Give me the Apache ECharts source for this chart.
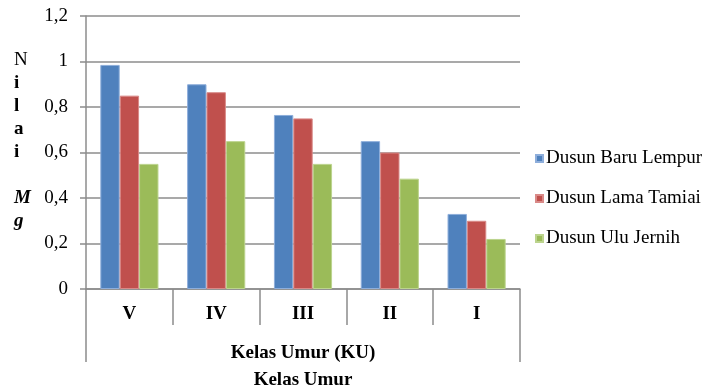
<!DOCTYPE html>
<html>
<head>
<meta charset="utf-8">
<script src="https://cdn.jsdelivr.net/npm/echarts@6/dist/echarts.min.js"></script>
<style>
  html, body { margin: 0; padding: 0; background: #fff; }
  #chart { width: 720px; height: 389px; }
</style>
</head>
<body>
<div id="chart"></div>
<script>
// Age classes (Kelas Umur) and Mg values per hamlet
const categories = ['V', 'IV', 'III', 'II', 'I'];
const baruLempur = [0.985, 0.90, 0.765, 0.65, 0.33];
const lamaTamiai = [0.85, 0.865, 0.75, 0.60, 0.30];
const uluJernih = [0.55, 0.65, 0.55, 0.485, 0.22];
const seriesNames = ['Dusun Baru Lempur', 'Dusun Lama Tamiai', 'Dusun Ulu Jernih'];
const yTicks = [0, 0.2, 0.4, 0.6, 0.8, 1, 1.2];

const FONT = '"Liberation Serif", "Times New Roman", serif';
const FS = 19;
const GRID_GRAY = '#8c8c8c';

const chart = echarts.init(document.getElementById('chart'));

function fmt(v) {
  return String(Math.round(v * 10) / 10).replace('.', ',');
}

function barSeries(name, data, color, border) {
  return {
    name: name,
    type: 'bar',
    xAxisIndex: 0,
    data: data,
    barGap: '0%',
    barCategoryGap: '33%',
    itemStyle: { color: color, borderColor: border, borderWidth: 1 },
    emphasis: { disabled: true }
  };
}

chart.setOption({
  animation: false,
  color: ['#4F81BD', '#C0504D', '#9BBB59'],
  grid: { left: 86, right: 200, top: 16, bottom: 100, containLabel: false, outerBoundsMode: 'none' },
  legend: {
    orient: 'vertical',
    left: 530,
    top: 144,
    itemWidth: 7,
    itemHeight: 7,
    itemGap: 21,
    icon: 'rect',
    data: seriesNames,
    textStyle: { fontFamily: FONT, fontSize: FS, color: '#000', padding: [0, 0, 0, -2] }
  },
  xAxis: [
    {
      type: 'category',
      data: categories,
      position: 'bottom',
      axisLine: { show: true, lineStyle: { color: GRID_GRAY, width: 1.5 } },
      axisTick: { show: true, length: 36, interval: 0, lineStyle: { color: GRID_GRAY, width: 1.5 } },
      axisLabel: { margin: 16, fontFamily: FONT, fontSize: FS, fontWeight: 'bold', color: '#000', interval: 0 },
      splitLine: { show: false }
    },
    {
      type: 'category',
      data: ['Kelas Umur (KU)'],
      position: 'bottom',
      axisLine: { show: false },
      axisTick: { show: true, length: 73, lineStyle: { color: GRID_GRAY, width: 1.5 } },
      axisLabel: { margin: 55, fontFamily: FONT, fontSize: FS, fontWeight: 'bold', color: '#000' },
      name: 'Kelas Umur',
      nameLocation: 'middle',
      nameGap: 82,
      nameTextStyle: { fontFamily: FONT, fontSize: FS, fontWeight: 'bold', color: '#000' },
      splitLine: { show: false }
    }
  ],
  yAxis: {
    type: 'value',
    min: yTicks[0],
    max: yTicks[yTicks.length - 1],
    interval: 0.2,
    axisLine: { show: true, lineStyle: { color: GRID_GRAY, width: 1.5 } },
    axisTick: { show: true, length: 6, lineStyle: { color: GRID_GRAY, width: 1.5 } },
    axisLabel: { margin: 18, fontFamily: FONT, fontSize: FS, color: '#000', formatter: fmt },
    splitLine: { show: true, lineStyle: { color: GRID_GRAY, width: 1.5 } }
  },
  graphic: [
    {
      type: 'text',
      left: 14,
      top: 49,
      style: {
        text: '{n|N}\n{b|i}\n{b|l}\n{b|a}\n{b|i}\n\n{m|M}\n{m|g}',
        fontFamily: FONT,
        fontSize: FS,
        lineHeight: 23,
        align: 'center',
        fill: '#000',
        rich: {
          n: { fontFamily: FONT, fontSize: FS, lineHeight: 23, fill: '#000' },
          b: { fontFamily: FONT, fontSize: FS, lineHeight: 23, fontWeight: 'bold', fill: '#000' },
          m: { fontFamily: FONT, fontSize: FS, lineHeight: 23, fontWeight: 'bold', fontStyle: 'italic', fill: '#000' }
        }
      }
    }
  ],
  series: [
    barSeries(seriesNames[0], baruLempur, '#4F81BD', '#8eaedb'),
    barSeries(seriesNames[1], lamaTamiai, '#C0504D', '#d98a88'),
    barSeries(seriesNames[2], uluJernih, '#9BBB59', '#bcd48e')
  ]
});
</script>
</body>
</html>
